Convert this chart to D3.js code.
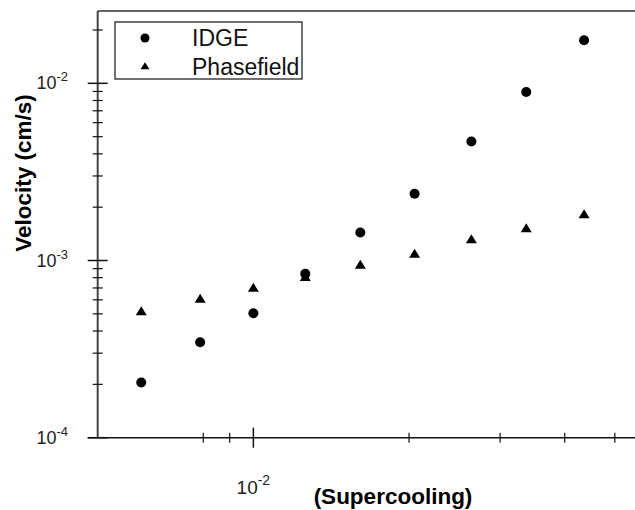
<!DOCTYPE html>
<html>
<head>
	<title>velocity vs supercooling</title>
	<script src="https://cdn.jsdelivr.net/npm/d3@7"></script>
</head>
<style type="text/css">
body
{
	margin: 0;
	background-color: #ffffff;
}
text
{
	font-family: Arial, "Liberation Sans", sans-serif;
}
</style>
<body>
</body>
</html>
<script type="text/javascript">
	var w = 635;
	var h = 510;

	// data
	var supercooling = [0.00607, 0.00789, 0.0100, 0.0126, 0.0161, 0.0205, 0.0264, 0.0337, 0.0436];
	var idge = [2.05e-4, 3.46e-4, 5.04e-4, 8.41e-4, 1.44e-3, 2.38e-3, 4.70e-3, 8.94e-3, 1.75e-2];
	var phasefield = [5.11e-4, 6.00e-4, 6.92e-4, 7.96e-4, 9.33e-4, 1.077e-3, 1.30e-3, 1.50e-3, 1.80e-3];

	var xMajor = [0.01];
	var xMinor = [0.008, 0.009, 0.02, 0.03, 0.04, 0.05];
	var yMajor = [1e-2, 1e-3, 1e-4];
	var yMinor = [2e-4, 3e-4, 4e-4, 5e-4, 6e-4, 7e-4, 8e-4, 9e-4,
	              2e-3, 3e-3, 4e-3, 5e-3, 6e-3, 7e-3, 8e-3, 9e-3, 2e-2];
	var seriesNames = ["IDGE", "Phasefield"];

	var svg = d3.select("body").append("svg").attr("width", w).attr("height", h);

	var x = d3.scaleLog().domain([0.005, 0.0547]).range([97.7, 635]);
	var y = d3.scaleLog().domain([1e-4, 2.56e-2]).range([437.7, 11]);

	function expo(v){ return Math.round(Math.log10(v)); }

	// frame lines
	svg.append("line").attr("x1", 97.7).attr("x2", 635).attr("y1", 11).attr("y2", 11)
		.attr("stroke", "#333").attr("stroke-width", 1.5);
	svg.append("line").attr("x1", 87.7).attr("x2", 635).attr("y1", y(1e-4)).attr("y2", y(1e-4))
		.attr("stroke", "#111").attr("stroke-width", 1.5);
	svg.append("line").attr("x1", 97.7).attr("x2", 97.7).attr("y1", 11).attr("y2", y(1e-4))
		.attr("stroke", "#444").attr("stroke-width", 2);

	// y ticks
	svg.selectAll(".ymaj").data(yMajor).enter().append("line")
		.attr("x1", 87.7).attr("x2", 107.7)
		.attr("y1", function(d){return y(d);}).attr("y2", function(d){return y(d);})
		.attr("stroke", "#111").attr("stroke-width", 1.5);
	svg.selectAll(".ymin").data(yMinor).enter().append("line")
		.attr("x1", 92.7).attr("x2", 102.7)
		.attr("y1", function(d){return y(d);}).attr("y2", function(d){return y(d);})
		.attr("stroke", "#111").attr("stroke-width", 1.2);

	var ylab = svg.selectAll(".ylab").data(yMajor).enter().append("text")
		.attr("x", 68).attr("y", function(d){return y(d) + 6;})
		.attr("text-anchor", "end").attr("font-size", 18).attr("fill", "#222");
	ylab.append("tspan").text("10");
	ylab.append("tspan").attr("dy", -8).attr("font-size", 13).text(function(d){return expo(d);});

	// x ticks
	svg.selectAll(".xmaj").data(xMajor).enter().append("line")
		.attr("x1", function(d){return x(d);}).attr("x2", function(d){return x(d);})
		.attr("y1", y(1e-4) - 10).attr("y2", y(1e-4) + 10)
		.attr("stroke", "#111").attr("stroke-width", 1.5);
	svg.selectAll(".xmin").data(xMinor).enter().append("line")
		.attr("x1", function(d){return x(d);}).attr("x2", function(d){return x(d);})
		.attr("y1", y(1e-4) - 5).attr("y2", y(1e-4) + 5)
		.attr("stroke", "#111").attr("stroke-width", 1.2);

	var xlab = svg.selectAll(".xlab").data(xMajor).enter().append("text")
		.attr("x", function(d){return x(d);}).attr("y", 494)
		.attr("text-anchor", "middle").attr("font-size", 19).attr("fill", "#222");
	xlab.append("tspan").text("10");
	xlab.append("tspan").attr("dy", -9).attr("font-size", 14).text(function(d){return expo(d);});

	// axis titles
	svg.append("text").attr("transform", "translate(31,173) rotate(-90)")
		.attr("text-anchor", "middle").attr("font-size", 22.5).attr("font-weight", "bold")
		.text("Velocity (cm/s)");
	svg.append("text").attr("x", 393).attr("y", 504)
		.attr("text-anchor", "middle").attr("font-size", 22.5).attr("font-weight", "bold")
		.text("(Supercooling)");

	function tri(wd, ht){
		return "M0," + (-ht*2/3) + "L" + (wd/2) + "," + (ht/3) + "L" + (-wd/2) + "," + (ht/3) + "Z";
	}

	// points
	svg.selectAll(".idge").data(supercooling).enter().append("circle")
		.attr("cx", function(d){return x(d);})
		.attr("cy", function(d,i){return y(idge[i]);})
		.attr("r", 5).attr("fill", "#000");

	svg.selectAll(".pf").data(supercooling).enter().append("path")
		.attr("d", tri(11, 9))
		.attr("transform", function(d,i){return "translate(" + x(d) + "," + y(phasefield[i]) + ")";})
		.attr("fill", "#000");

	// legend
	var lg = svg.append("g");
	lg.append("rect").attr("x", 115).attr("y", 22).attr("width", 187).attr("height", 57)
		.attr("fill", "#fff").attr("stroke", "#111").attr("stroke-width", 1.2);
	lg.append("circle").attr("cx", 145).attr("cy", 38).attr("r", 4.5).attr("fill", "#000");
	lg.append("path").attr("d", tri(9, 7)).attr("transform", "translate(145,67)").attr("fill", "#000");
	lg.selectAll(".lt").data(seriesNames).enter().append("text")
		.attr("x", 192).attr("y", function(d,i){return 46 + i*29;})
		.attr("font-size", 23).attr("fill", "#111")
		.text(function(d){return d;});
</script>
